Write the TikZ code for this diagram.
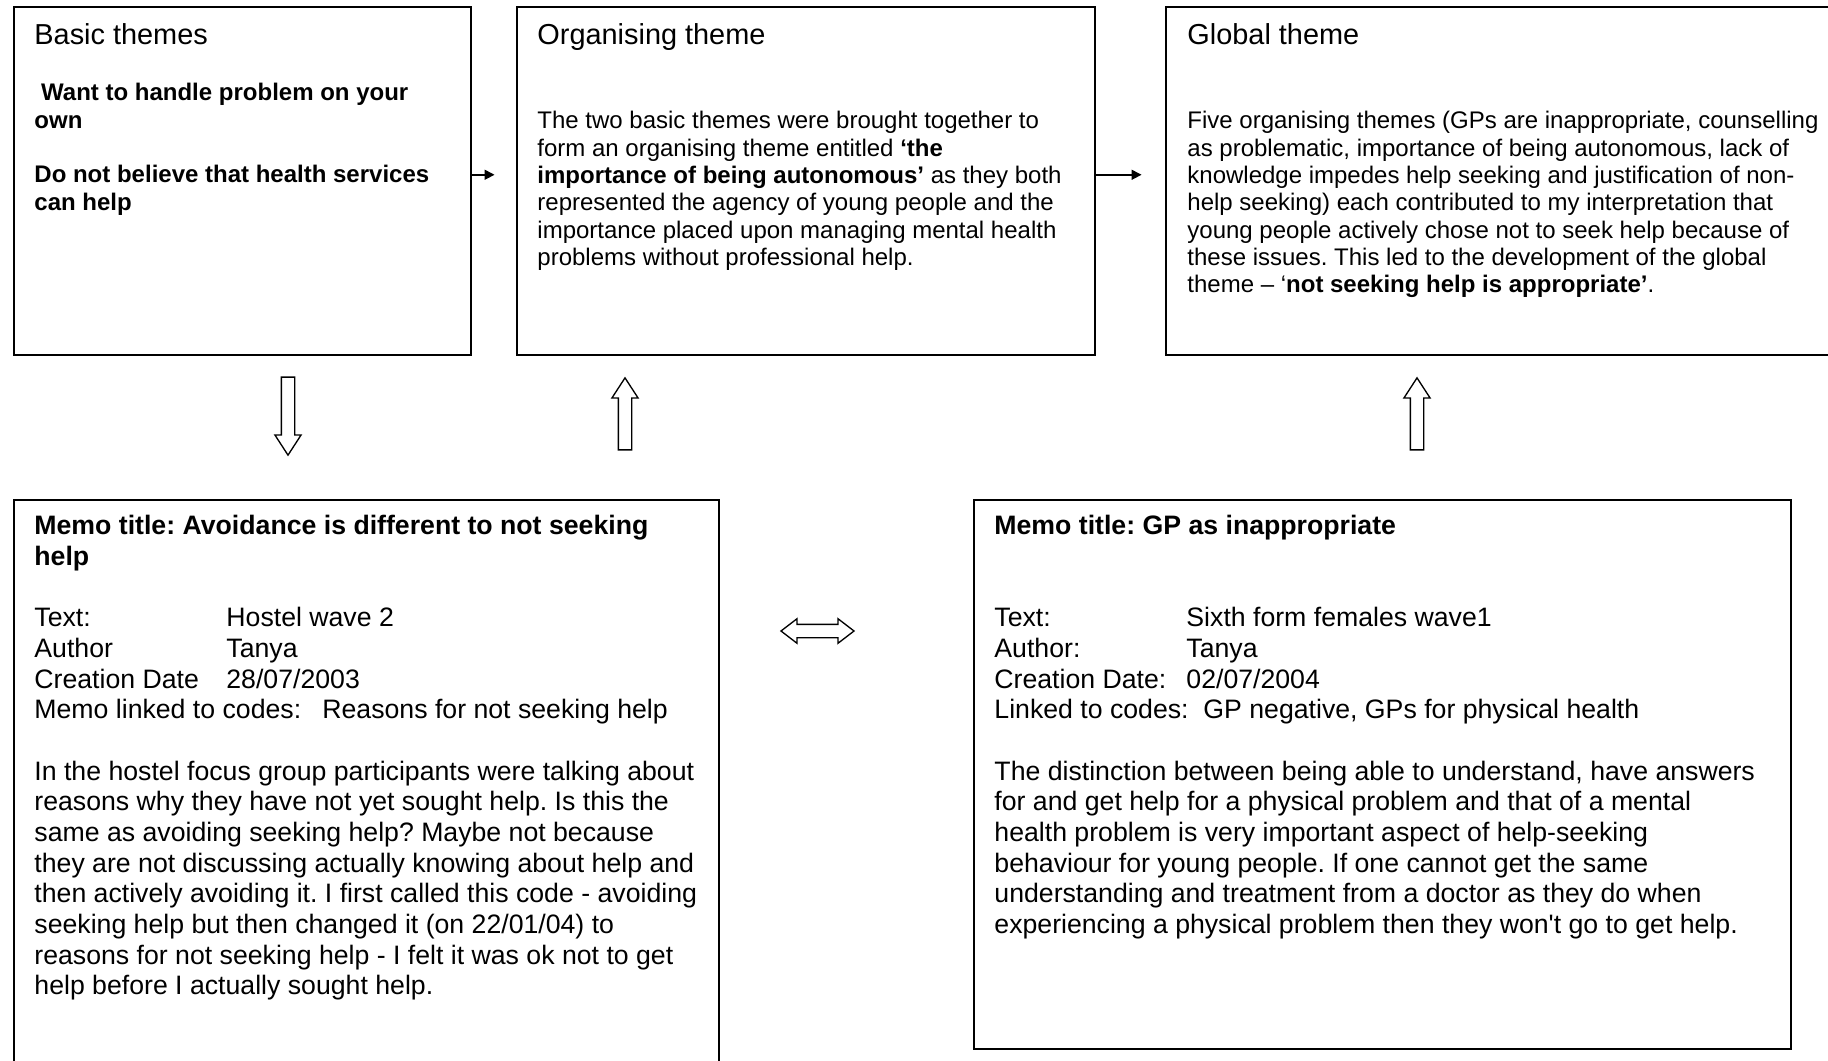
\documentclass[tikz,border=0pt]{standalone}
\usepackage{fontspec}
\setmainfont{Liberation Sans}
\usetikzlibrary{arrows.meta,shapes.arrows}
\newcommand{\pxu}[1]{#1*0.45pt}
\frenchspacing

\begin{document}
\begin{tikzpicture}[x=0.45pt, y=-0.45pt,
    themebox/.style={draw, line width=0.7pt, anchor=north west, inner sep=0pt},
    boxtext/.style={anchor=north west, inner sep=0pt, align=left},
    headfont/.style={font=\fontsize{13}{15}\selectfont},
    themefont/.style={font=\fontsize{10.8}{12.3}\selectfont},
    themebold/.style={font=\fontsize{10.8}{12.3}\selectfont\bfseries},
    memofont/.style={font=\fontsize{12}{13.8}\selectfont},
    flow/.style={line width=0.7pt, -{Triangle[length=4.5pt, width=4.5pt]}},
    hollow/.style={single arrow, draw, line width=0.6pt, inner xsep=0pt, inner ysep=2.7pt,
        single arrow head extend=2.9pt, single arrow tip angle=66},
    hollowboth/.style={double arrow, draw, line width=0.6pt, inner xsep=0pt, inner ysep=2.7pt,
        minimum height=32.85pt, double arrow head extend=2.5pt, double arrow tip angle=75}]
    \useasboundingbox (0,0) rectangle (1828,1061);
    \fill[white] (0,0) rectangle (1828,1061);
    \clip (0,0) rectangle (1828,1061);

    % theme boxes
    \node[themebox, minimum width=\pxu{457}, minimum height=\pxu{348}] (basic) at (13,6) {};
    \node[themebox, minimum width=\pxu{578}, minimum height=\pxu{348}] (organising) at (516,6) {};
    \node[themebox, minimum width=\pxu{690}, minimum height=\pxu{348}] (global) at (1165,6) {};
    \node[themebox, minimum width=\pxu{705}, minimum height=\pxu{590}] (memoA) at (13,499) {};
    \node[themebox, minimum width=\pxu{817}, minimum height=\pxu{549}] (memoB) at (973,499) {};

    \node[boxtext, headfont] (basicHead) at ([shift={(21,17)}]basic.north west) {Basic themes};
    \node[boxtext, themebold] (basicText) at ([shift={(21,77)}]basic.north west)
        {\hspace*{0.28em}Want to handle problem on your\\ own\\[12.3pt]
         Do not believe that health services\\ can help};

    \node[boxtext, headfont] (organisingHead) at ([shift={(21,17)}]organising.north west) {Organising theme};
    \node[boxtext, themefont] (organisingText) at ([shift={(21,105)}]organising.north west)
        {The two basic themes were brought together to\\
         form an organising theme entitled \textbf{‘the}\\
         \textbf{importance of being autonomous’} as they both\\
         represented the agency of young people and the\\
         importance placed upon managing mental health\\
         problems without professional help.};

    \node[boxtext, headfont] (globalHead) at ([shift={(22,17)}]global.north west) {Global theme};
    \node[boxtext, themefont] (globalText) at ([shift={(22,105)}]global.north west)
        {Five organising themes (GPs are inappropriate, counselling\\
         as problematic, importance of being autonomous, lack of\\
         knowledge impedes help seeking and justification of non-\\
         help seeking) each contributed to my interpretation that\\
         young people actively chose not to seek help because of\\
         these issues. This led to the development of the global\\
         theme – ‘\textbf{not seeking help is appropriate’}.};

    % memo boxes
    \node[boxtext, memofont] (memoAText) at ([shift={(21,16)}]memoA.north west)
        {\textbf{Memo title: Avoidance is different to not seeking}\\
         \textbf{help}\\[13.8pt]
         \makebox[86.4pt][l]{Text:}Hostel wave 2\\
         \makebox[86.4pt][l]{Author}Tanya\\
         \makebox[86.4pt][l]{Creation Date}28/07/2003\\
         \makebox[129.6pt][l]{Memo linked to codes:}Reasons for not seeking help\\[13.8pt]
         In the hostel focus group participants were talking about\\
         reasons why they have not yet sought help. Is this the\\
         same as avoiding seeking help? Maybe not because\\
         they are not discussing actually knowing about help and\\
         then actively avoiding it. I first called this code - avoiding\\
         seeking help but then changed it (on 22/01/04) to\\
         reasons for not seeking help - I felt it was ok not to get\\
         help before I actually sought help.};

    \node[boxtext, memofont] (memoBText) at ([shift={(21,16)}]memoB.north west)
        {\textbf{Memo title: GP as inappropriate}\\[27.6pt]
         \makebox[86.4pt][l]{Text:}Sixth form females wave1\\
         \makebox[86.4pt][l]{Author:}Tanya\\
         \makebox[86.4pt][l]{Creation Date:}02/07/2004\\
         Linked to codes:\ \ GP negative, GPs for physical health\\[13.8pt]
         The distinction between being able to understand, have answers\\
         for and get help for a physical problem and that of a mental\\
         health problem is very important aspect of help-seeking\\
         behaviour for young people. If one cannot get the same\\
         understanding and treatment from a doctor as they do when\\
         experiencing a physical problem then they won\textquotesingle t go to get help.};

    % connectors
    \draw[flow] ([yshift=2.7pt]basic.east) -- ++(23,0);
    \draw[flow] ([yshift=2.7pt]organising.east) -- ++(46,0);

    \node[hollow, minimum height=\pxu{78}, rotate=-90] (toMemoA) at (288,411) {};
    \node[hollow, minimum height=\pxu{72}, rotate=90] (toOrganising) at (625,419) {};
    \node[hollow, minimum height=\pxu{72}, rotate=90] (toGlobal) at (1417,419) {};
    \node[hollowboth] (betweenMemos) at (817.5,631) {};
\end{tikzpicture}
\end{document}
